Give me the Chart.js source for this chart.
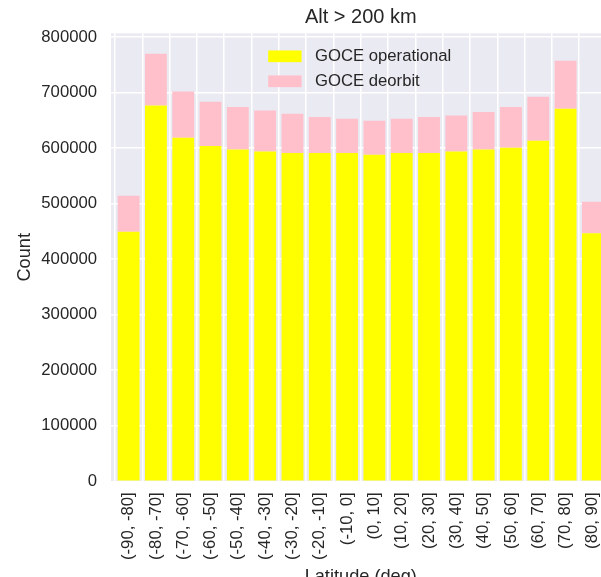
<!DOCTYPE html>
<html>
<head>
<meta charset="utf-8">
<script src="https://cdn.jsdelivr.net/npm/chart.js@4/dist/chart.umd.min.js"></script>
<style>
  html, body { margin: 0; padding: 0; overflow: hidden; background: #ffffff; width: 601px; height: 577px; }
  #wrap { position: absolute; left: 0; top: 0; width: 625px; height: 600px; }
</style>
</head>
<body>
<div id="wrap"><canvas id="c" width="625" height="600"></canvas></div>
<script>
// Latitude bins
const categories = [
  '(-90, -80]', '(-80, -70]', '(-70, -60]', '(-60, -50]', '(-50, -40]', '(-40, -30]',
  '(-30, -20]', '(-20, -10]', '(-10, 0]', '(0, 10]', '(10, 20]', '(20, 30]',
  '(30, 40]', '(40, 50]', '(50, 60]', '(60, 70]', '(70, 80]', '(80, 90]'
];

// Counts per bin, altitude above 200 km
const operational = [
  449200, 676800, 618600, 603600, 597500, 593900,
  591000, 591000, 591000, 588000, 591000, 591000,
  593900, 597500, 600500, 613200, 670800, 446800
];
const deorbit = [
  64800, 93100, 83400, 79800, 76400, 73800,
  70800, 64900, 61800, 61200, 61800, 64900,
  64800, 67300, 73400, 79200, 86500, 56400
];

const yTickValues = [0, 100000, 200000, 300000, 400000, 500000, 600000, 700000, 800000];

const FONT = "'Liberation Sans', Arial, sans-serif";
const INK = '#262626';
const PLOT_BG = '#eaeaf2';
const TICK_SIZE = 16.7;
const LABEL_SIZE = 18.2;
const TITLE_SIZE = 20;

// Plot-area background fill
const plotBackground = {
  id: 'plotBackground',
  beforeDraw(chart) {
    const { ctx, chartArea: a } = chart;
    ctx.save();
    ctx.fillStyle = PLOT_BG;
    ctx.fillRect(a.left, a.top, a.right - a.left, a.bottom - a.top);
    ctx.restore();
  }
};

// Legend placed in the upper centre of the plot area
const innerLegend = {
  id: 'innerLegend',
  afterDatasetsDraw(chart) {
    const { ctx, chartArea: a } = chart;
    const fs = TICK_SIZE;
    const handleW = 2.0 * fs, handleH = 0.7 * fs, textPad = 0.8 * fs;
    ctx.save();
    ctx.font = fs + 'px ' + FONT;
    const items = chart.data.datasets;
    const textW = Math.max(...items.map(d => ctx.measureText(d.label).width));
    const totalW = handleW + textPad + textW;
    const x0 = (a.left + a.right) / 2 - totalW / 2 - 1;
    const rowGap = 25;
    const y0 = a.top + 23;
    items.forEach((d, i) => {
      const cy = y0 + i * rowGap;
      ctx.fillStyle = d.backgroundColor;
      ctx.fillRect(x0, cy - handleH / 2, handleW, handleH);
      ctx.fillStyle = INK;
      ctx.textBaseline = 'middle';
      ctx.textAlign = 'left';
      ctx.fillText(d.label, x0 + handleW + textPad, cy);
    });
    ctx.restore();
  }
};

const gridStyle = { color: '#ffffff', lineWidth: 1.5, drawTicks: false };

new Chart(document.getElementById('c').getContext('2d'), {
  type: 'bar',
  data: {
    datasets: [
      {
        label: 'GOCE operational',
        data: operational.map((v, i) => ({ x: i, y: v })),
        backgroundColor: '#ffff00',
        barPercentage: 0.8,
        categoryPercentage: 1
      },
      {
        label: 'GOCE deorbit',
        data: deorbit.map((v, i) => ({ x: i, y: v })),
        backgroundColor: '#ffc0cb',
        barPercentage: 0.8,
        categoryPercentage: 1
      }
    ]
  },
  options: {
    responsive: false,
    animation: false,
    devicePixelRatio: 1,
    layout: { padding: { left: 0, right: 14.5, top: 0, bottom: 0 } },
    plugins: {
      legend: { display: false },
      tooltip: { enabled: false },
      title: {
        display: true,
        fullSize: false,
        text: 'Alt > 200 km',
        color: INK,
        font: { family: FONT, size: TITLE_SIZE, weight: 'normal' },
        padding: { top: 5, bottom: 4.3 }
      }
    },
    scales: {
      x: {
        type: 'linear',
        stacked: true,
        min: -0.645,
        max: 17.645,
        offset: false,
        grid: gridStyle,
        border: { display: false },
        ticks: {
          stepSize: 1,
          includeBounds: false,
          autoSkip: false,
          maxRotation: 90,
          minRotation: 90,
          padding: 11,
          color: INK,
          font: { family: FONT, size: TICK_SIZE },
          callback: (v) => categories[v]
        },
        afterBuildTicks: (s) => {
          s.ticks = s.ticks.filter(t => Number.isInteger(t.value) && t.value >= 0 && t.value < categories.length);
        },
        afterFit: (s) => { s.height = 600 - 481.3; },
        title: {
          display: true,
          text: 'Latitude (deg)',
          color: INK,
          font: { family: FONT, size: LABEL_SIZE },
          padding: { top: 0, bottom: 12 }
        }
      },
      y: {
        stacked: true,
        min: 0,
        max: 806700,
        grid: gridStyle,
        border: { display: false },
        ticks: {
          stepSize: 100000,
          includeBounds: false,
          padding: 14,
          color: INK,
          font: { family: FONT, size: TICK_SIZE },
          callback: (v) => String(v)
        },
        afterBuildTicks: (s) => {
          s.ticks = yTickValues.map(v => ({ value: v }));
        },
        afterFit: (s) => { s.width = 111; },
        title: {
          display: true,
          text: 'Count',
          color: INK,
          font: { family: FONT, size: LABEL_SIZE },
          padding: { top: 14, bottom: 0 }
        }
      }
    }
  },
  plugins: [plotBackground, innerLegend]
});
</script>
</body>
</html>
